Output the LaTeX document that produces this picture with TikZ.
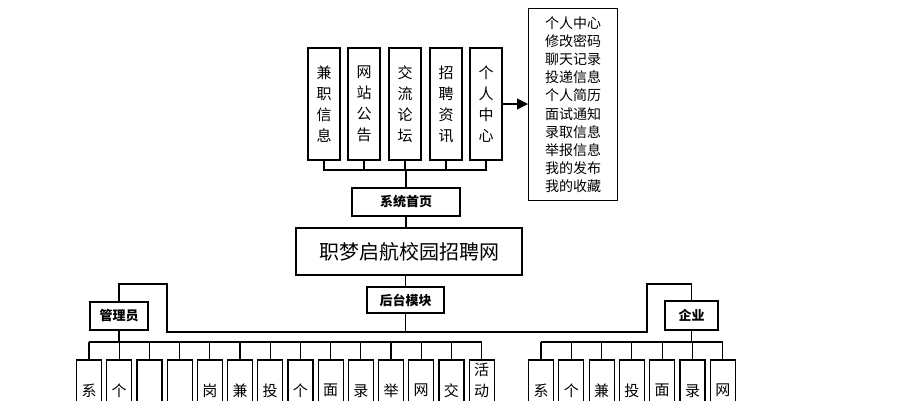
\documentclass[tikz,border=0pt]{standalone}
\usepackage{fontspec}
\setmainfont{Noto Sans CJK SC}
\usetikzlibrary{arrows.meta}
\begin{document}
\begin{tikzpicture}[x=1pt,y=-1pt,
  bx/.style={draw,line width=1.2pt,inner sep=0pt},
  ln/.style={line width=1.1pt},
  vt/.style={font=\fontsize{15}{21}\selectfont,align=center,inner sep=0pt}]
\useasboundingbox (0,0) rectangle (913,400);
\clip (0,0) rectangle (913,400);
% top boxes
\foreach \x/\t [count=\i] in {308/兼\\职\\信\\息,348/网\\站\\公\\告,389/交\\流\\论\\坛,430/招\\聘\\资\\讯,470/个\\人\\中\\心}{
  \draw[bx] (\x,48) rectangle (\x+32,160);
  \node[vt] (t\i) at (\x+16,104) {\t};
  \coordinate (tb\i) at (\x+16,160);
}
\node[bx,minimum width=108pt,minimum height=28pt,font=\bfseries\fontsize{13}{13}\selectfont] (home) at (406,202) {系统首页};
\draw[ln] (tb1) -- ++(0,10) -| (tb5);
\foreach \i in {2,3,4} \draw[ln] (tb\i) -- ++(0,10);
\draw[ln] (406,170) -- (home.north);
\node[bx,minimum width=89pt,minimum height=192pt,align=left,font=\fontsize{14}{18.2}\selectfont,anchor=north west] (list) at (528,8) {个人中心\\修改密码\\聊天记录\\投递信息\\个人简历\\面试通知\\录取信息\\举报信息\\我的发布\\我的收藏};
\coordinate (pc) at (502,104);
\draw[ln,-{Triangle[length=11pt,width=11pt]}] (pc) -- (pc-|list.west);
% title
\node[bx,minimum width=226pt,minimum height=47pt,font=\fontsize{20}{20}\selectfont] (title) at (409,251.5) {职梦启航校园招聘网};
\draw[ln] (home.south) -- (home.south|-title.north);
\node[bx,minimum width=77pt,minimum height=26pt,font=\bfseries\fontsize{13}{13}\selectfont] (back) at (405.5,300) {后台模块};
\draw[ln] (back.north|-title.south) -- (back.north);
\node[bx,minimum width=58pt,minimum height=28pt,font=\bfseries\fontsize{13}{13}\selectfont] (admin) at (119,316) {管理员};
\node[bx,minimum width=53pt,minimum height=29pt,font=\bfseries\fontsize{13}{13}\selectfont] (corp) at (691.5,315.5) {企业};
\coordinate (bj) at (405.5,332);
\draw[ln] (back.south) -- (bj);
\draw[ln] (admin.north) |- (167,284) -- (167,332) -- (647,332) -- (647,284) -| (corp.north);
% admin boxes
\foreach \t [count=\i] in {系\\统,个\\人,{},{},岗\\位,兼\\职,投\\递,个\\人,面\\试,录\\取,举\\报,网\\站,交\\流,活\\动}{
  \pgfmathsetmacro\cx{89+30.2*(\i-1)}
  \draw[bx] (\cx-12.5,360) rectangle (\cx+12.5,420);
  \coordinate (a\i) at (\cx,360);
  \draw[ln] (a\i) -- (\cx,342);
  \ifnum\i=14
    \node[vt,anchor=north] at (\cx,363) {\t};
  \else
    \node[vt,anchor=north] at (\cx,384) {\t};
  \fi
}
\draw[ln] (admin.south) -- (119,342);
\draw[ln] (89,342) -- (481.6,342);
% corp boxes
\foreach \t [count=\i] in {系\\统,个\\人,兼\\职,投\\递,面\\试,录\\取,网\\站}{
  \pgfmathsetmacro\cx{541+30.3*(\i-1)}
  \draw[bx] (\cx-12.5,360) rectangle (\cx+12.5,420);
  \coordinate (c\i) at (\cx,360);
  \draw[ln] (c\i) -- (\cx,342);
  \node[vt,anchor=north] at (\cx,384) {\t};
}
\draw[ln] (corp.south) -- (691.5,342);
\draw[ln] (541,342) -- (722.8,342);
\end{tikzpicture}
\end{document}
